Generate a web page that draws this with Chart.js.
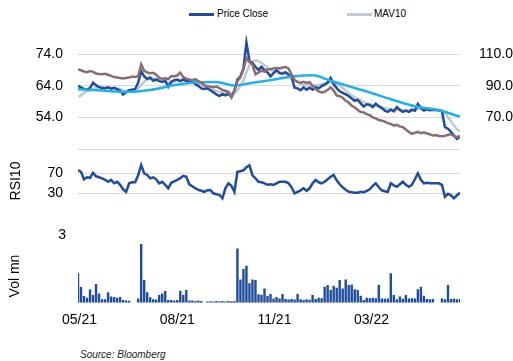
<!DOCTYPE html>
<html>
<head>
<meta charset="utf-8">
<script src="https://cdn.jsdelivr.net/npm/chart.js"></script>
<style>
  body { margin: 0; background: #fff; font-family: 'Liberation Sans', Arial, sans-serif; }
  #wrap { position: relative; width: 513px; height: 361px; overflow: hidden; }
  canvas { position: absolute; left: 0; }
  .txt { position: absolute; color: #000; white-space: nowrap; }
  .swatch { position: absolute; height: 3px; width: 25px; }
  .rot { position: absolute; width: 70px; height: 16px; line-height: 16px; text-align: center; font-size: 14px; transform: rotate(-90deg); }
</style>
</head>
<body>
<div id="wrap">
  <div class="swatch" style="left:189px; top:12.5px; background:#1f4c9c"></div>
  <div class="txt" style="left:217px; top:8px; font-size:10px; line-height:12px">Price Close</div>
  <div class="swatch" style="left:347px; top:12.5px; background:#bfcad6"></div>
  <div class="txt" style="left:374px; top:8px; font-size:10px; line-height:12px">MAV10</div>

  <canvas id="cPrice" width="513" height="122" style="top:30px"></canvas>
  <canvas id="cRsi" width="513" height="56" style="top:152px"></canvas>
  <canvas id="cVol" width="513" height="122" style="top:208px"></canvas>

  <div class="rot" style="left:-20px; top:173px">RSI10</div>
  <div class="rot" style="left:-21px; top:268px">Vol mn</div>
  <div class="txt" style="left:80px; top:349px; font-size:10px; line-height:12px; font-style:italic; color:#222">Source: Bloomberg</div>
</div>

<script>
// ~3 trading days per point, May 2021 -> Jun 2022
const priceClose = [64, 63.5, 63, 62.8, 63.3, 65, 64.2, 63.6, 63.3, 63.2,
  63.5, 63.1, 63.4, 63, 62.5, 61.3, 62, 62.6, 62.8, 63,
  65, 68.6, 67, 66.2, 66.6, 65.6, 66, 65.5, 65.2, 65.6,
  63.7, 65.3, 65.8, 66, 65.5, 66, 65.6, 65.3, 65.5, 64.5,
  64, 63.2, 63, 63.2, 62.6, 62, 61.3, 60.8, 61.4, 61,
  61.5, 60.5, 62.5, 66, 67, 69.5, 77.6, 71.8, 71.2, 70,
  69, 70, 69, 68.2, 67, 68, 69, 68, 67.8, 68.3,
  67.5, 66.8, 63.4, 63.2, 62.6, 63.5, 62.8, 63.4, 62.8, 63.6,
  63.2, 63.9, 64.4, 65, 66.5, 64.5, 63.3, 62.3, 61.8, 61.3,
  60.8, 60, 59.3, 59.6, 58.5, 57.5, 58.2, 58, 57.3, 58.4,
  57.6, 57, 56.2, 55.8, 56.5, 56, 57.3, 56.4, 55.8, 56.2,
  55.8, 56.5, 56.2, 58.3, 57, 56.2, 56.6, 56.3, 56.5, 56.4,
  56.3, 56, 51, 50.5, 49.5, 48.3, 47.3, 48];

const mav10 = [60.5, 61, 61.8, 62.3, 62.6, 63, 63.4, 63.6, 63.6, 63.5,
  63.4, 63.3, 63.3, 63.2, 63, 62.6, 62.3, 62.2, 62.4, 62.7,
  63.2, 64.3, 65.3, 66, 66.3, 66.3, 66, 65.8, 65.6, 65.5,
  65, 64.9, 65.1, 65.4, 65.6, 65.7, 65.7, 65.5, 65.4, 65.2,
  64.8, 64.3, 63.8, 63.4, 63, 62.7, 62.4, 62.1, 61.9, 61.8,
  61.7, 61.6, 61.8, 62.6, 64, 65.6, 68.3, 70.5, 71.6, 72,
  71.8, 71.2, 70.5, 69.8, 69, 68.5, 68.3, 68.2, 68.1, 68,
  67.8, 67.2, 66, 65.2, 64.6, 64.3, 64.2, 64.1, 64.1, 64.2,
  64.3, 64.5, 64.7, 64.9, 65.1, 65, 64.6, 64, 63.3, 62.5,
  61.7, 61, 60.4, 59.8, 59.4, 58.9, 58.5, 58.2, 57.9, 57.7,
  57.5, 57.3, 57, 56.8, 56.6, 56.5, 56.5, 56.6, 56.4, 56.3,
  56.2, 56.2, 56.3, 56.7, 57, 56.9, 56.7, 56.5, 56.5, 56.4,
  56.4, 56.3, 55.5, 54.2, 52.8, 51.5, 50.3, 49.6];

// slow moving average, sampled at these point indices
const maLongIdx = [0, 8, 16, 24, 32, 40, 46, 52, 58, 64, 72, 78, 84, 90, 96, 104, 112, 120, 127];
const maLong = [62.9, 62.5, 62.1, 62.7, 64.2, 65.1, 65.2, 64.1, 65, 65.8, 67, 67.3, 65.6, 63.9, 62.2, 59.8, 57.6, 56.3, 54.3];

// right axis series
const relIndex = [100.4, 99.8, 99, 98.6, 99.3, 98.8, 97.8, 97.5, 97.3, 97.6,
  97, 96.3, 95.5, 95.2, 94.9, 94.6, 95, 95.2, 95.8, 95.6,
  96, 103.5, 99.5, 98.5, 98, 98.2, 97, 95, 94.5, 94.8,
  94.3, 96.2, 96, 96.5, 98.3, 95.5, 94.5, 94, 93.6, 94.2,
  93, 92, 90.5, 89.8, 89.5, 89.2, 89.6, 88.5, 87.5, 86.9,
  86.2, 82.7, 87, 93, 95.5, 100.5, 107.5, 105, 103.5, 97.3,
  98.5, 99.5, 99, 100.4, 100.5, 101, 101.2, 101, 101.5, 101.8,
  101, 97.3, 93.5, 92.5, 92, 92.5, 91.8, 92.3, 90, 88,
  86.5, 85.8, 86.2, 87.5, 89, 87, 84, 83.5, 82.5, 80.6,
  79.5, 77.5, 76.4, 75, 73.5, 73.3, 72.2, 71.5, 70.2, 69.5,
  68.5, 68.1, 67.5, 66.5, 66, 65, 65.5, 64.5, 64, 62.5,
  61, 59.8, 60.5, 61, 60.2, 60.8, 60, 59.5, 58.7, 59,
  58.5, 58.3, 58.5, 59.2, 59.5, 58.5, 57.7, 58.5];

const rsi10 = [76.5, 73, 58, 62, 61, 71, 64, 62, 60, 57,
  53, 56.7, 50, 53, 47, 38, 33, 50, 52, 52,
  66, 86.7, 70, 66.7, 60, 62, 58, 50, 53, 47,
  40, 51, 54, 56.7, 60, 65, 63, 48, 44, 40,
  36.7, 35, 33, 36, 36.7, 30, 28, 27, 20, 40,
  50, 45, 33, 73, 74, 76, 82, 86, 66, 60,
  53, 52, 50, 47, 48, 46.7, 50, 53, 53, 53,
  50, 42, 30, 33, 36, 40, 35, 40, 50, 56.7,
  52, 50, 53, 58, 63, 66.7, 56, 48, 42, 37,
  33, 32, 31, 31, 33, 32, 35, 38, 45, 50,
  42, 36, 34, 33, 50, 46, 43, 48, 53, 47,
  43, 46.7, 58, 70, 57, 50, 51, 50, 50, 50,
  50, 47, 23, 29, 26, 20, 26, 31];

const volMn = [1.3, 0.7, 0.3, 0.22, 0.59, 0.34, 0.83, 0.41, 0.15, 0.15,
  0.46, 0.27, 0.25, 0.22, 0.25, 0.12, 0.1, 0.09, null, null,
  0.19, 2.6, 1.0, 0.46, 0.24, 0.15, 0.14, 0.34, 0.41, 0.52,
  0.12, 0.12, 0.1, 0.12, 0.53, 0.34, 0.56, 0.1, 0.1, 0.08,
  0.1, 0.08, null, 0.05, 0.06, 0.05, 0.07, 0.05, 0.08, 0.05,
  0.07, 0.06, 0.08, 2.4, 1.03, 1.49, 1.64, 0.86, 1.03, 1.0,
  0.37, 0.35, 0.63, 0.3, 0.38, 0.19, 0.25, 0.19, 0.38, 0.16,
  0.14, 0.16, 0.14, 0.38, 0.15, 0.12, 0.15, 0.13, 0.34, 0.16,
  0.22, 0.2, 0.71, 0.78, 0.56, 0.75, 0.66, 1.0, 0.63, 1.03,
  0.78, 0.81, 0.6, 0.56, 0.31, 0.12, 0.22, 0.2, 0.22, 0.2,
  0.78, 0.19, 0.18, 0.19, 1.3, 0.34, 0.15, 0.27, 0.18, 0.34,
  0.19, 0.2, 0.19, 0.6, 0.71, 0.31, 0.16, 0.15, 0.16, null,
  null, 0.19, 0.15, 0.78, 0.16, 0.18, 0.15, 0.16];

const xTickPos = [0.5, 33, 65.3, 97.6];
const xTickLabels = ['05/21', '08/21', '11/21', '03/22'];
const priceTicks = [44, 54, 64, 74];
const rightTicks = [50, 70, 90, 110];
const rsiTicks = [30, 70];
const volTicks = [3];

const DARK = '#1f4c9c';
const GRID = '#d9d9d9';
Chart.defaults.font.family = "'Liberation Sans', Arial, sans-serif";
Chart.defaults.color = '#000';
Chart.defaults.animation = false;

const pts = arr => arr.map((v, i) => ({ x: i, y: v }));
const lastIdx = priceClose.length - 1;

// fixed axis width, and no extra room for the end labels
const fixW = w => s => { s.width = w; s.paddingTop = 0; s.paddingBottom = 0; };

const xHidden = () => ({ type: 'linear', min: 0, max: lastIdx, display: false });
const leftY = (min, max, ticks, fmt, pad) => ({
  position: 'left', min: min, max: max,
  afterBuildTicks: s => { s.ticks = ticks.map(v => ({ value: v })); },
  afterFit: fixW(78),
  border: { display: false },
  grid: { color: GRID, drawTicks: false },
  ticks: { font: { size: 14 }, padding: pad, callback: fmt }
});
const baseOpts = {
  responsive: false,
  plugins: { legend: { display: false }, tooltip: { enabled: false } },
  elements: { point: { radius: 0 } }
};

new Chart(document.getElementById('cPrice'), {
  type: 'line',
  data: {
    datasets: [
      { label: 'Price Close', data: pts(priceClose), borderColor: DARK, borderWidth: 2.5, order: 2, yAxisID: 'y' },
      { label: 'MAV10', data: pts(mav10), borderColor: '#bfcad6', borderWidth: 2.5, order: 3, yAxisID: 'y' },
      { label: 'MA long', data: maLongIdx.map((x, k) => ({ x: x, y: maLong[k] })), borderColor: '#1eb1ea',
        borderWidth: 2.5, cubicInterpolationMode: 'monotone', order: 1, yAxisID: 'y' },
      { label: 'Relative', data: pts(relIndex), borderColor: '#8b6b74', borderWidth: 2.5, order: 0, yAxisID: 'y1' }
    ]
  },
  options: Object.assign({}, baseOpts, {
    layout: { padding: { top: 5, bottom: 2.6 } },
    scales: {
      x: xHidden(),
      y: leftY(44, 80, priceTicks, v => (v === 44 ? '' : v.toFixed(1)), 15),
      y1: {
        position: 'right', min: 50, max: 122,
        afterBuildTicks: s => { s.ticks = rightTicks.map(v => ({ value: v })); },
        afterFit: fixW(53),
        border: { display: false },
        grid: { display: false, drawTicks: false },
        ticks: { font: { size: 14 }, padding: 15, crossAlign: 'far', callback: v => (v === 50 ? '' : v.toFixed(1)) }
      }
    }
  })
});

new Chart(document.getElementById('cRsi'), {
  type: 'line',
  data: { datasets: [{ label: 'RSI10', data: pts(rsi10), borderColor: DARK, borderWidth: 2.5 }] },
  options: Object.assign({}, baseOpts, {
    layout: { padding: { top: 6.3, bottom: 4.7, right: 53 } },
    scales: { x: xHidden(), y: leftY(10, 100, rsiTicks, v => String(v), 15) }
  })
});

new Chart(document.getElementById('cVol'), {
  type: 'bar',
  data: { datasets: [{ label: 'Vol mn', data: pts(volMn), backgroundColor: DARK, barPercentage: 1, categoryPercentage: 0.8 }] },
  options: Object.assign({}, baseOpts, {
    layout: { padding: { top: 20.2, bottom: 0, right: 53 } },
    scales: {
      x: {
        type: 'linear', min: 0, max: lastIdx, offset: false,
        afterBuildTicks: s => { s.ticks = xTickPos.map(v => ({ value: v })); },
        afterFit: s => { s.height = 27.3; },
        border: { display: false },
        grid: { display: false, drawTicks: false },
        ticks: { font: { size: 14 }, padding: 9, maxRotation: 0, autoSkip: false,
          callback: v => xTickLabels[xTickPos.indexOf(v)] }
      },
      y: Object.assign(leftY(0, 3.3, volTicks, v => String(v), 12), { grid: { display: false, drawTicks: false } })
    }
  })
});
</script>
</body>
</html>
